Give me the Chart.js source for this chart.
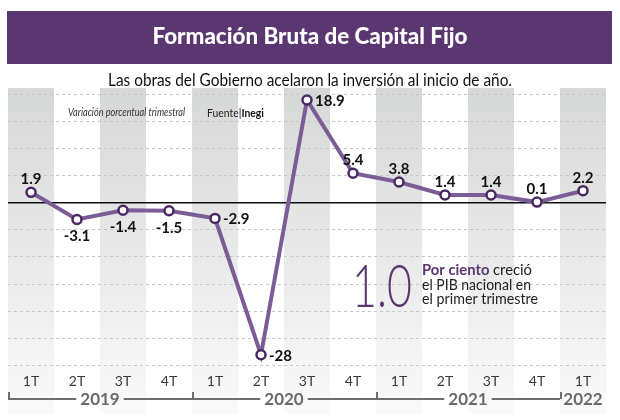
<!DOCTYPE html>
<html>
<head>
<meta charset="utf-8">
<script src="https://cdn.jsdelivr.net/npm/chart.js@4.4.1/dist/chart.umd.min.js"></script>
<style>
body { margin: 0; background: #fff; }
canvas { display: block; }
</style>
</head>
<body>
<canvas id="fbcf" width="620" height="420"></canvas>
<script>
// datos: variacion porcentual trimestral (Inegi)
var quarters = ['1T', '2T', '3T', '4T', '1T', '2T', '3T', '4T', '1T', '2T', '3T', '4T', '1T'];
var values = [1.9, -3.1, -1.4, -1.5, -2.9, -28, 18.9, 5.4, 3.8, 1.4, 1.4, 0.1, 2.2];
var valueLabels = ['1.9', '-3.1', '-1.4', '-1.5', '-2.9', '-28', '18.9', '5.4', '3.8', '1.4', '1.4', '0.1', '2.2'];
var labelSide = ['up', 'down', 'down', 'down', 'right', 'right', 'right', 'up', 'up', 'up', 'up', 'up', 'up'];
var years = ['2019', '2020', '2021', '2022'];
var quartersPerYear = [4, 4, 4, 1];

var purple = '#5a3771';

// texto comprimido a un ancho dado (la fuente original es condensada)
function fitText(ctx, text, x, y, w, font, color, align) {
    ctx.save();
    ctx.font = font;
    ctx.fillStyle = color;
    ctx.textAlign = 'left';
    ctx.textBaseline = 'alphabetic';
    var m = ctx.measureText(text).width;
    var sx = w / m;
    var left = align === 'center' ? x - w / 2 : x;
    ctx.translate(left, y);
    ctx.scale(sx, 1);
    ctx.fillText(text, 0, 0);
    ctx.restore();
}

// varias piezas seguidas en una linea, comprimidas juntas
function fitRuns(ctx, runs, x, y, w) {
    ctx.save();
    var total = 0;
    runs.forEach(function (r) { ctx.font = r.font; total += ctx.measureText(r.text).width; });
    ctx.translate(x, y);
    ctx.scale(w / total, 1);
    var cx = 0;
    runs.forEach(function (r) {
        ctx.font = r.font;
        ctx.fillStyle = r.color;
        ctx.fillText(r.text, cx, 0);
        cx += ctx.measureText(r.text).width;
    });
    ctx.restore();
}

var decor = {
    id: 'decor',
    beforeDraw: function (chart) {
        var ctx = chart.ctx, x = chart.scales.x;
        ctx.save();
        ctx.fillStyle = '#fff';
        ctx.fillRect(0, 0, chart.width, chart.height);
        var band = x.width / quarters.length;
        var g = ctx.createLinearGradient(0, 88, 0, 414);
        g.addColorStop(0, '#d6d7d7');
        g.addColorStop(1, '#fafafa');
        ctx.fillStyle = g;
        for (var i = 0; i < quarters.length; i += 2) {
            ctx.fillRect(x.getPixelForValue(i) - band / 2, 88, band, 326);
        }
        // banda del titulo
        ctx.fillStyle = purple;
        ctx.fillRect(7, 11, 605, 53);
        ctx.restore();

        fitText(ctx, 'Formación Bruta de Capital Fijo', 310, 44, 315, '900 22px Lato', '#fff', 'center');
        fitText(ctx, 'Las obras del Gobierno acelaron la inversión al inicio de año.', 310, 86, 404, '17px Lato', '#111', 'center');
    },
    afterDatasetsDraw: function (chart) {
        var ctx = chart.ctx;
        var meta = chart.getDatasetMeta(0);
        ctx.save();
        ctx.font = 'bold 15px Lato';
        ctx.fillStyle = '#111';
        ctx.textBaseline = 'middle';
        meta.data.forEach(function (pt, i) {
            var side = labelSide[i];
            if (side === 'up') {
                ctx.textAlign = 'center';
                ctx.fillText(valueLabels[i], pt.x, pt.y - 13);
            } else if (side === 'down') {
                ctx.textAlign = 'center';
                ctx.fillText(valueLabels[i], pt.x, pt.y + 17);
            } else {
                ctx.textAlign = 'left';
                ctx.fillText(valueLabels[i], pt.x + 8, pt.y + 1);
            }
        });
        ctx.restore();
    },
    afterDraw: function (chart) {
        var ctx = chart.ctx, x = chart.scales.x;
        var band = x.width / quarters.length;
        var lineY = 399;

        // corchetes de años
        ctx.save();
        var start = 0;
        ctx.font = 'bold 17px Lato';
        for (var k = 0; k < years.length; k++) {
            var x0 = x.getPixelForValue(start) - band / 2;
            var x1 = x.getPixelForValue(start + quartersPerYear[k] - 1) + band / 2;
            var cx = (x0 + x1) / 2;
            var tw = ctx.measureText(years[k]).width;
            ctx.strokeStyle = '#6e6e6e';
            ctx.lineWidth = 2;
            ctx.beginPath();
            ctx.moveTo(x0 + 1, lineY - 7);
            ctx.lineTo(x0 + 1, lineY);
            if (cx - tw / 2 - 4 > x0) {
                ctx.lineTo(cx - tw / 2 - 4, lineY);
                ctx.moveTo(cx + tw / 2 + 4, lineY);
                ctx.lineTo(x1, lineY);
            }
            ctx.stroke();
            ctx.fillStyle = '#6a6a6a';
            ctx.textAlign = 'center';
            ctx.textBaseline = 'middle';
            ctx.fillText(years[k], cx, lineY + 1);
            start += quartersPerYear[k];
        }
        ctx.restore();

        // notas
        fitText(ctx, 'Variación porcentual trimestral', 68, 116, 117, 'italic 11px Lato', '#333', 'left');
        fitRuns(ctx, [
            { text: 'Fuente', font: '11px Lato', color: '#222' },
            { text: '|', font: 'bold 11px Lato', color: purple },
            { text: 'Inegi', font: 'bold 11px Lato', color: '#111' }
        ], 207, 117, 57);

        // dato destacado
        fitText(ctx, '1.0', 352, 307, 60, '300 60px Lato', purple, 'left');
        fitRuns(ctx, [
            { text: 'Por ciento ', font: 'bold 14.5px Lato', color: purple },
            { text: 'creció', font: '14.5px Lato', color: '#222' }
        ], 422, 275, 110);
        fitText(ctx, 'el PIB nacional en', 422, 290, 109, '14.5px Lato', '#222', 'left');
        fitText(ctx, 'el primer trimestre', 422, 304, 116, '14.5px Lato', '#222', 'left');
    }
};

var ctx = document.getElementById('fbcf').getContext('2d');
var chart = new Chart(ctx, {
    type: 'line',
    data: {
        labels: quarters,
        datasets: [{
            data: values,
            borderColor: '#7c5c96',
            borderWidth: 4,
            tension: 0,
            pointRadius: 4.5,
            pointBorderWidth: 2.5,
            pointBackgroundColor: '#fff',
            pointBorderColor: '#4a2963',
            clip: false
        }]
    },
    options: {
        responsive: false,
        animation: false,
        layout: { padding: { left: 8, right: 14, top: 94, bottom: 24.4 } },
        plugins: { legend: { display: false }, tooltip: { enabled: false } },
        scales: {
            x: {
                offset: true,
                grid: { display: false, drawTicks: false },
                border: { display: false },
                ticks: { color: '#3a3a3a', font: { family: 'Lato', size: 14 }, padding: 7 },
                afterFit: function (s) { s.height = 30; }
            },
            y: {
                min: -30,
                max: 20,
                ticks: { display: false, stepSize: 5 },
                grid: {
                    drawTicks: false,
                    color: function (c) { return c.tick && c.tick.value === 0 ? '#111' : '#c6c6c6'; },
                    lineWidth: function (c) { return c.tick && c.tick.value === 0 ? 1.5 : 1; }
                },
                border: {
                    display: false,
                    dash: function (c) { return c.tick && c.tick.value === 0 ? [] : [3, 3]; }
                },
                afterFit: function (s) { s.width = 0; }
            }
        }
    },
    plugins: [decor]
});
</script>
</body>
</html>
